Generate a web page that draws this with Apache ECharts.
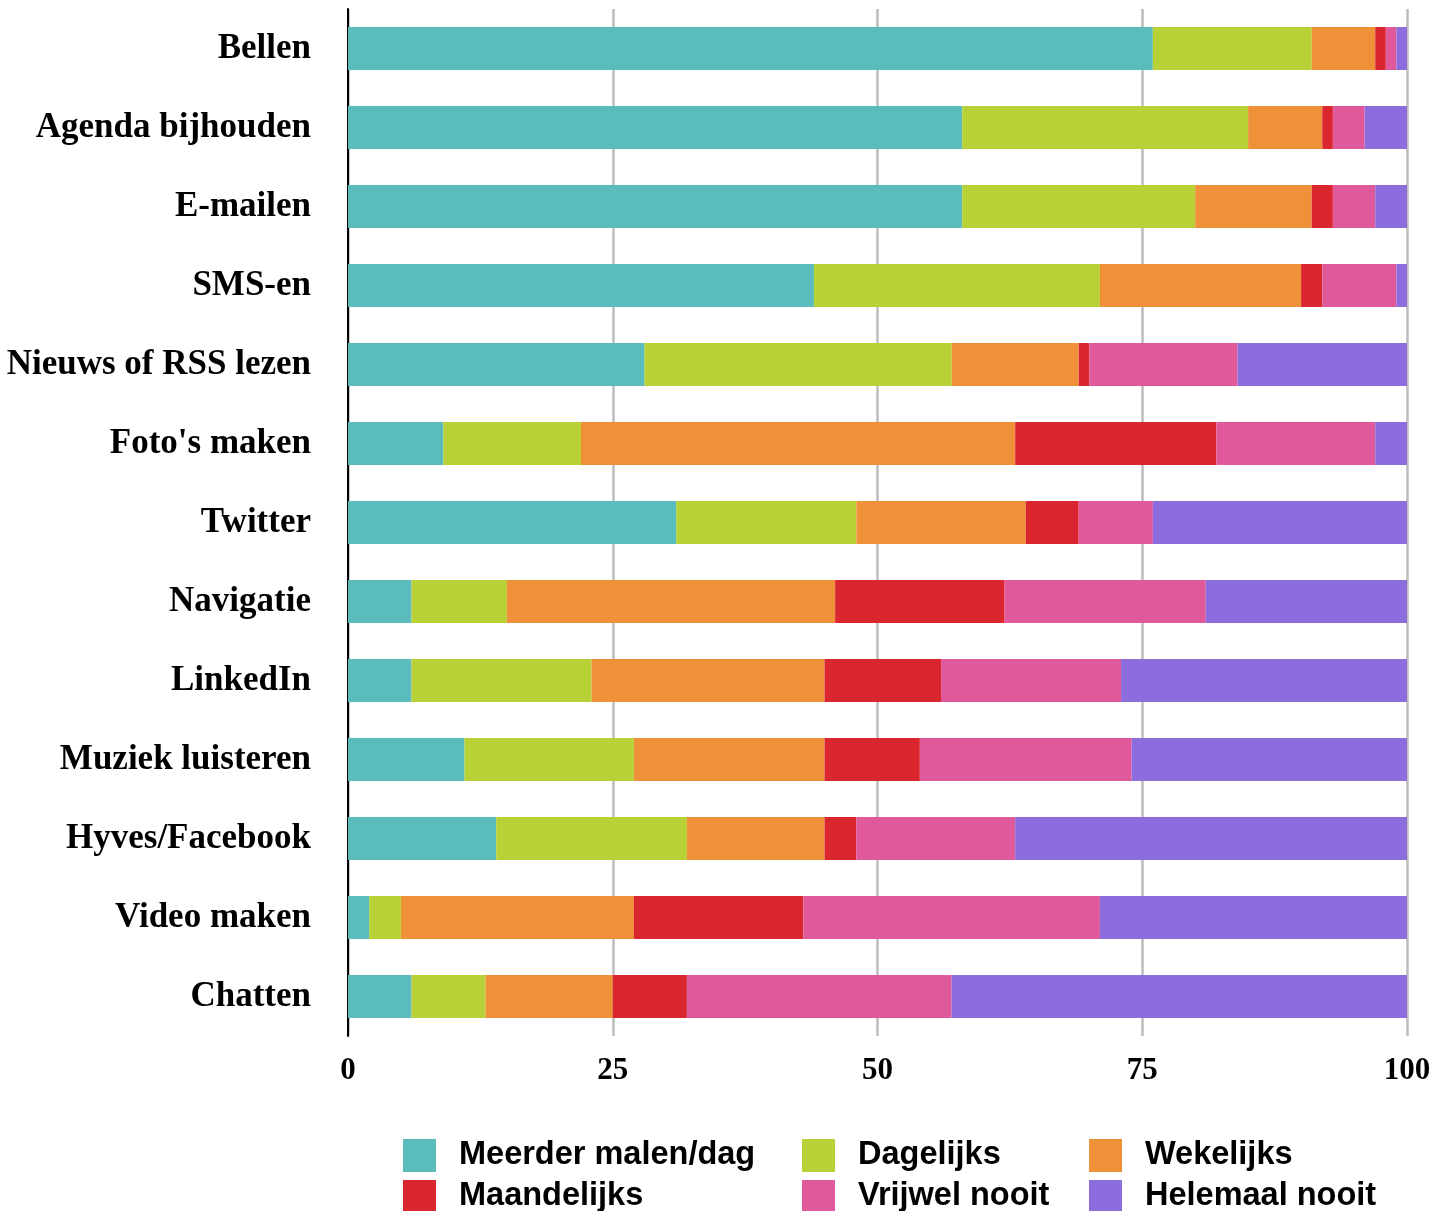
<!DOCTYPE html>
<html>
<head>
<meta charset="utf-8">
<script src="https://cdn.jsdelivr.net/npm/echarts@6/dist/echarts.min.js"></script>
<style>
  html, body { margin: 0; padding: 0; background: #ffffff; }
  #chart { width: 1446px; height: 1211px; }
</style>
</head>
<body>
<div id="chart"></div>
<script>
// Smartphone usage frequency per activity (percent of respondents)
const categories = [
  'Bellen', 'Agenda bijhouden', 'E-mailen', 'SMS-en', 'Nieuws of RSS lezen',
  "Foto's maken", 'Twitter', 'Navigatie', 'LinkedIn', 'Muziek luisteren',
  'Hyves/Facebook', 'Video maken', 'Chatten'
];
const seriesNames = [
  'Meerder malen/dag', 'Dagelijks', 'Wekelijks',
  'Maandelijks', 'Vrijwel nooit', 'Helemaal nooit'
];
const meerderMalenPerDag = [76, 58, 58, 44, 28, 9, 31, 6, 6, 11, 14, 2, 6];
const dagelijks          = [15, 27, 22, 27, 29, 13, 17, 9, 17, 16, 18, 3, 7];
const wekelijks          = [6, 7, 11, 19, 12, 41, 16, 31, 22, 18, 13, 22, 12];
const maandelijks        = [1, 1, 2, 2, 1, 19, 5, 16, 11, 9, 3, 16, 7];
const vrijwelNooit       = [1, 3, 4, 7, 14, 15, 7, 19, 17, 20, 15, 28, 25];
const helemaalNooit      = [1, 4, 3, 1, 16, 3, 24, 19, 27, 26, 37, 29, 43];
const xTicks = [0, 25, 50, 75, 100];

const seriesValues = [meerderMalenPerDag, dagelijks, wekelijks, maandelijks, vrijwelNooit, helemaalNooit];
const colors = ['#5bbcbc', '#b8d136', '#ee9139', '#da262e', '#e0599b', '#8d6cde'];

const serifFont = '"Liberation Serif", "DejaVu Serif", serif';
const sansFont = '"Liberation Sans", Arial, sans-serif';

// Three legend columns, two entries each
const legendBase = {
  orient: 'vertical',
  top: 1139,
  height: 100,
  itemWidth: 33,
  itemHeight: 33,
  itemGap: 8,
  icon: 'rect',
  padding: 0,
  textStyle: { fontFamily: sansFont, fontWeight: 'bold', fontSize: 32.5, color: '#000', padding: [2, 0, 0, 18] }
};

const chart = echarts.init(document.getElementById('chart'), null, { renderer: 'canvas' });
chart.setOption({
  animation: false,
  backgroundColor: '#ffffff',
  color: colors,
  grid: { left: 348, right: 39, top: 9, height: 1027, containLabel: false },
  legend: [
    Object.assign({}, legendBase, { left: 403, data: [seriesNames[0], seriesNames[3]] }),
    Object.assign({}, legendBase, { left: 802, data: [seriesNames[1], seriesNames[4]] }),
    Object.assign({}, legendBase, { left: 1089, data: [seriesNames[2], seriesNames[5]] })
  ],
  xAxis: {
    type: 'value',
    min: xTicks[0],
    max: xTicks[xTicks.length - 1],
    interval: 25,
    axisLine: { show: false },
    axisTick: { show: false },
    splitLine: { show: true, lineStyle: { color: '#bdbdbd', width: 2.5 } },
    axisLabel: {
      margin: 19,
      fontFamily: serifFont, fontWeight: 'bold', fontSize: 31, color: '#000',
      formatter: v => xTicks.includes(v) ? String(v) : ''
    }
  },
  yAxis: {
    type: 'category',
    data: categories,
    inverse: true,
    axisLine: { show: true, lineStyle: { color: '#000', width: 2 } },
    axisTick: { show: false },
    axisLabel: {
      margin: 37,
      padding: [6, 0, 0, 0],
      fontFamily: serifFont, fontWeight: 'bold', fontSize: 35, color: '#000'
    }
  },
  series: seriesNames.map((name, i) => ({
    name,
    type: 'bar',
    stack: 'total',
    barWidth: 43,
    data: seriesValues[i],
    itemStyle: { color: colors[i] },
    emphasis: { disabled: true }
  }))
});
</script>
</body>
</html>
